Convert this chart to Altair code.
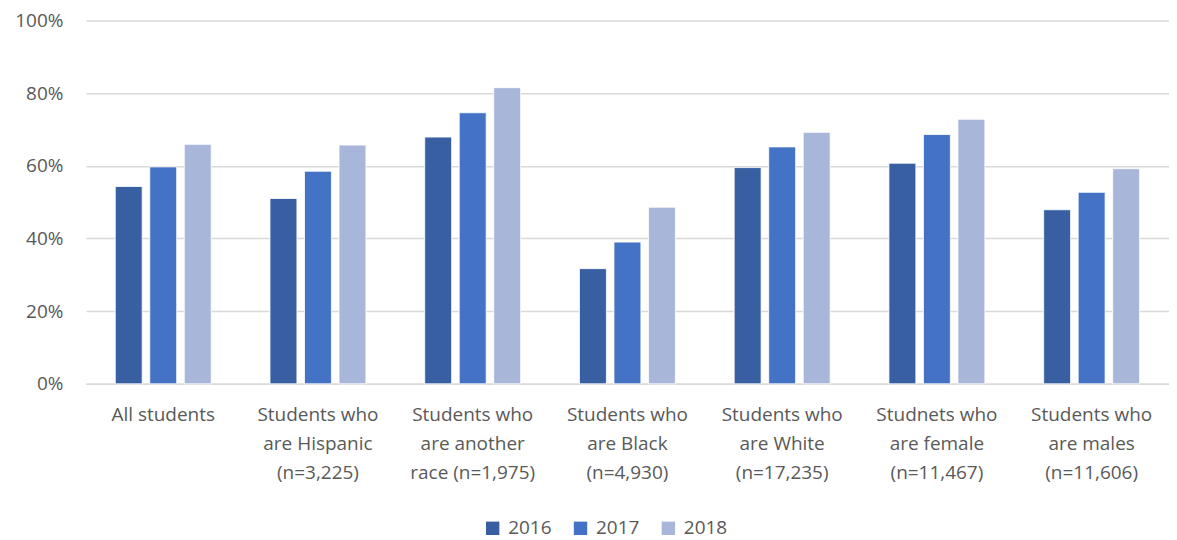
import altair as alt
import pandas as pd

categories = [
    "All students",
    "Students who|are Hispanic|(n=3,225)",
    "Students who|are another|race (n=1,975)",
    "Students who|are Black|(n=4,930)",
    "Students who|are White|(n=17,235)",
    "Studnets who|are female|(n=11,467)",
    "Students who|are males|(n=11,606)",
]
years = ["2016", "2017", "2018"]
v2016 = [54.3, 51.0, 67.9, 31.7, 59.5, 60.7, 47.9]
v2017 = [59.7, 58.5, 74.6, 39.0, 65.2, 68.6, 52.7]
v2018 = [65.9, 65.7, 81.5, 48.6, 69.2, 72.8, 59.2]
colors = ["#375FA2", "#4472C4", "#A8B6DA"]

rows = []
for i, c in enumerate(categories):
    for y, vals in zip(years, [v2016, v2017, v2018]):
        rows.append({"category": c, "year": y, "value": vals[i] / 100.0})
df = pd.DataFrame(rows)

FONT = "Open Sans"
GRAY = "#595959"
FS = 19

chart = alt.Chart(df).mark_bar(stroke="white", strokeWidth=0.8).encode(
    x=alt.X(
        "category:N",
        sort=categories,
        title=None,
        scale=alt.Scale(paddingInner=0.38, paddingOuter=0.19),
        axis=alt.Axis(
            labelAngle=0,
            labelExpr="split(datum.label, '|')",
            labelFont=FONT,
            labelFontSize=FS,
            labelColor=GRAY,
            labelLineHeight=29,
            labelPadding=22,
            ticks=False,
            domainColor="#D9D9D9",
            domainWidth=1.5,
            labelLimit=200,
        ),
    ),
    xOffset=alt.XOffset("year:N", sort=years, scale=alt.Scale(paddingInner=0.22)),
    y=alt.Y(
        "value:Q",
        title=None,
        scale=alt.Scale(domain=[0, 1]),
        axis=alt.Axis(
            format=".0%",
            values=[0, 0.2, 0.4, 0.6, 0.8, 1.0],
            labelFont=FONT,
            labelFontSize=FS,
            labelColor=GRAY,
            labelPadding=23,
            ticks=False,
            domain=False,
            gridColor="#D9D9D9",
            gridWidth=1.5,
            minExtent=78,
            maxExtent=78,
        ),
    ),
    color=alt.Color(
        "year:N",
        sort=years,
        scale=alt.Scale(domain=years, range=colors),
        legend=alt.Legend(
            title=None,
            orient="none",
            direction="horizontal",
            legendX=398,
            legendY=499,
            symbolType="square",
            symbolSize=180,
            symbolStrokeWidth=0,
            labelFont=FONT,
            labelFontSize=FS,
            labelColor=GRAY,
            labelOffset=6,
            columnPadding=19,
        ),
    ),
).properties(
    width=1085,
    height=364,
    padding={"left": 0, "top": 3, "right": 0, "bottom": 6},
).configure_view(stroke=None)

chart.save("out.html", embed_options={"renderer": "svg", "actions": False})
